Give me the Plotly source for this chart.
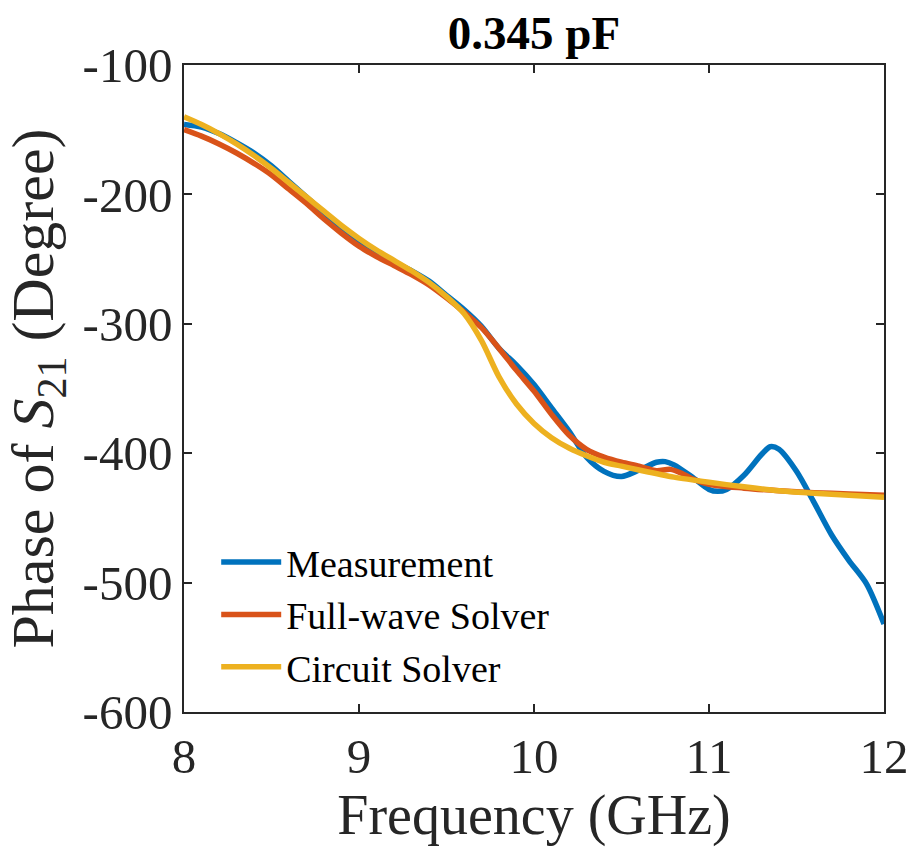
import plotly.graph_objects as go

# ---- data ----
freq_meas = [8.0, 8.1, 8.2, 8.3, 8.4, 8.5, 8.6, 8.7, 8.8, 8.85, 8.9, 9.0, 9.1, 9.2, 9.3, 9.4,
             9.5, 9.6, 9.7, 9.8, 9.9, 10.0, 10.1, 10.2, 10.3, 10.4, 10.5, 10.6, 10.7, 10.75,
             10.8, 10.9, 11.0, 11.05, 11.1, 11.2, 11.3, 11.35, 11.4, 11.5, 11.6, 11.7, 11.8,
             11.9, 12.0]
phase_meas = [-146, -148, -153, -160, -168, -178, -190, -202, -214, -220, -226, -236, -245, -252,
              -259, -267, -278, -289, -302, -319, -332, -347, -365, -383, -403, -414, -418, -413,
              -407, -406.5, -409, -418, -428, -429.5, -428, -417, -401, -395, -397, -414, -438,
              -463, -483, -501, -532]

freq_fw = [8.0, 8.1, 8.2, 8.3, 8.4, 8.5, 8.6, 8.7, 8.8, 8.9, 9.0, 9.1, 9.2, 9.3, 9.4, 9.5, 9.6,
           9.7, 9.8, 9.9, 10.0, 10.1, 10.2, 10.3, 10.4, 10.5, 10.6, 10.7, 10.78, 10.85, 10.9,
           11.0, 11.2, 11.4, 11.6, 11.8, 12.0]
phase_fw = [-150, -155, -161, -168, -176, -185, -196, -207, -219, -230, -240, -248, -255, -262,
            -270, -280, -291, -303, -319, -336, -352, -370, -386, -397, -403, -407, -410, -413.5,
            -412.5, -416, -419.5, -424, -427, -429, -430.5, -431.5, -432.5]

freq_cs = [8.0, 8.1, 8.2, 8.3, 8.4, 8.5, 8.6, 8.7, 8.8, 8.9, 9.0, 9.1, 9.2, 9.3, 9.4, 9.5,
           9.6, 9.7, 9.8, 9.9, 10.0, 10.1, 10.2, 10.3, 10.4, 10.5, 10.6, 10.8, 11.0, 11.2,
           11.4, 11.6, 11.8, 12.0]
phase_cs = [-140, -146, -153, -161, -170, -180, -191, -202, -213, -224, -234, -243, -251, -259,
            -268, -279, -292, -313, -341, -362, -377, -388, -396, -402, -407, -410,
            -413, -418.5, -422.5, -426, -429, -431, -432.5, -434]

series_names = ["Measurement", "Full-wave Solver", "Circuit Solver"]
series_colors = ["#0072BD", "#D95319", "#EDB120"]

x_ticks = [8, 9, 10, 11, 12]
x_ticktext = ["8", "9", "10", "11", "12"]
y_ticks = [-600, -500, -400, -300, -200, -100]
y_ticktext = ["-600", "-500", "-400", "-300", "-200", "-100"]

title_text = "<b>0.345 pF</b>"
x_title = "Frequency (GHz)"
y_title = "Phase of <i>S</i><sub>21</sub> (Degree)"

serif = "Liberation Serif"
axis_col = "#262626"

# ---- figure ----
fig = go.Figure()
for fx, fy, name, col in zip([freq_meas, freq_fw, freq_cs], [phase_meas, phase_fw, phase_cs],
                             series_names, series_colors):
    fig.add_trace(go.Scatter(x=fx, y=fy, mode="lines", name=name,
                             line=dict(color=col, width=5.5, shape="spline", smoothing=0.8)))

fig.update_layout(
    width=911, height=853, autosize=False,
    font_family=serif,
    margin=dict(l=184, r=27, t=65, b=141, autoexpand=False),
    paper_bgcolor="white", plot_bgcolor="white",
    showlegend=True,
    title=dict(text=title_text, font=dict(family=serif, size=47, color="black"),
               x=(184 + 884) / 2 / 911, xanchor="center",
               y=1 - 33 / 853, yref="container", yanchor="middle"),
    legend=dict(x=0.046, y=0.28, xanchor="left", yanchor="top",
                bgcolor="rgba(0,0,0,0)", borderwidth=0,
                font=dict(family=serif, size=38, color="black"),
                itemwidth=60, tracegroupgap=0),
    xaxis=dict(range=[8, 12], tickmode="array", tickvals=x_ticks, ticktext=x_ticktext,
               automargin=False,
               showgrid=False, zeroline=False, showline=True, linecolor=axis_col, linewidth=1.5,
               mirror="ticks", ticks="inside", ticklen=8, tickwidth=1.5, tickcolor=axis_col,
               tickfont=dict(family=serif, size=49, color=axis_col),
               title=dict(text=x_title, font=dict(family=serif, size=56, color=axis_col),
                          standoff=8)),
    yaxis=dict(range=[-600, -100], tickmode="array", tickvals=y_ticks, ticktext=y_ticktext,
               automargin=False,
               showgrid=False, zeroline=False, showline=True, linecolor=axis_col, linewidth=1.5,
               mirror="ticks", ticks="inside", ticklen=8, tickwidth=1.5, tickcolor=axis_col,
               tickfont=dict(family=serif, size=49, color=axis_col),
               title=dict(text=y_title, font=dict(family=serif, size=60, color=axis_col),
                          standoff=12)),
)

fig.write_html("out.html")
